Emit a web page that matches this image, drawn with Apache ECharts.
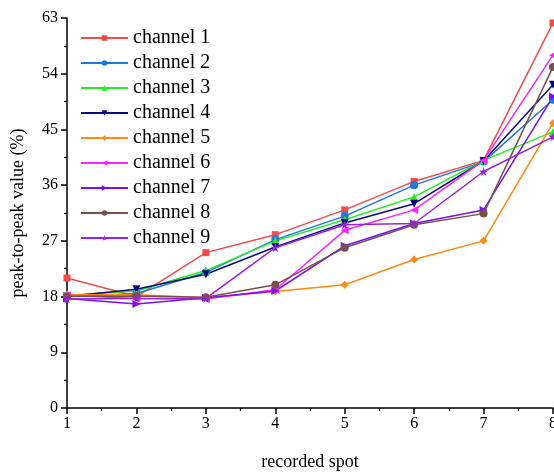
<!DOCTYPE html>
<html><head><meta charset="utf-8">
<script src="https://cdn.jsdelivr.net/npm/echarts@6/dist/echarts.min.js"></script>
<style>html,body{margin:0;padding:0;background:#fff}#c{width:554px;height:472px}</style>
</head><body><div id="c"></div>
<script>
var categories = [1,2,3,4,5,6,7,8];
var yTicks = [0,9,18,27,36,45,54,63];
var seriesNames = ['channel 1','channel 2','channel 3','channel 4','channel 5','channel 6','channel 7','channel 8','channel 9'];
var ch1 = [21.0, 18.0, 25.1, 28.0, 32.0, 36.6, 40.0, 62.2];
var ch2 = [18.0, 18.5, 21.9, 27.2, 31.0, 36.0, 39.8, 49.8];
var ch3 = [18.2, 18.9, 22.2, 27.0, 30.4, 34.1, 40.0, 44.6];
var ch4 = [18.0, 19.2, 21.6, 26.0, 29.9, 33.0, 39.9, 52.2];
var ch5 = [18.3, 18.3, 17.8, 18.8, 19.9, 24.0, 27.0, 46.0];
var ch6 = [18.2, 17.7, 17.6, 19.1, 28.7, 32.0, 40.0, 57.0];
var ch7 = [17.7, 16.8, 17.8, 18.9, 26.2, 29.8, 32.0, 50.3];
var ch8 = [18.0, 18.1, 17.9, 19.9, 25.9, 29.6, 31.4, 55.1];
var ch9 = [17.6, 17.7, 17.7, 25.9, 29.6, 29.8, 38.2, 43.8];

var allData = [ch1,ch2,ch3,ch4,ch5,ch6,ch7,ch8,ch9];
var colors = ['#f44a4a','#1f77e0','#22ee22','#0a0a80','#ff8a14','#ff22ff','#7a10f0','#7a4f4f','#9a22d8'];
var star = 'path://M50,0 L61,35 L98,35 L68,57 L79,91 L50,70 L21,91 L32,57 L2,35 L39,35 Z';
var symbols = ['rect','circle','triangle','triangle','diamond','triangle','triangle','circle',star];
var rotates = [0,0,0,180,0,90,-90,0,0];
var sizes = [7,8,8,8,8,8,8,8,9];
var font = '"Liberation Serif","Times New Roman",serif';

var series = allData.map(function(d,i){
  return {
    name: seriesNames[i], type: 'line',
    data: categories.map(function(c,j){return [c,d[j]];}),
    symbol: symbols[i], symbolSize: sizes[i], symbolRotate: rotates[i],
    showAllSymbol: true,
    lineStyle: {width: 1.5, color: colors[i]},
    itemStyle: {color: colors[i]},
    emphasis: {disabled: true},
    animation: false
  };
});

var chart = echarts.init(document.getElementById('c'));
chart.setOption({
  animation: false,
  grid: {left: 67, top: 18, right: 1, bottom: 64, containLabel: false, outerBoundsMode: 'none'},
  legend: {
    left: 80, top: 28, padding: 0, orient: 'vertical', itemWidth: 47, itemHeight: 7, itemGap: 5,
    textStyle: {fontFamily: font, fontSize: 20, color: '#000'},
    data: seriesNames
  },
  xAxis: {
    type: 'value', min: 1, max: 8, interval: 1,
    name: 'recorded spot', nameLocation: 'middle', nameGap: 45,
    nameTextStyle: {fontFamily: font, fontSize: 18, color: '#000'},
    axisLine: {show: true, onZero: false, lineStyle: {color: '#000', width: 1.5}},
    axisTick: {show: true, length: 6, lineStyle: {color: '#000', width: 1.5}},
    minorTick: {show: true, splitNumber: 2, length: 3, lineStyle: {color: '#000', width: 1.2}},
    axisLabel: {fontFamily: font, fontSize: 16, color: '#000', margin: 8},
    splitLine: {show: false}
  },
  yAxis: {
    type: 'value', min: 0, max: 63, interval: 9,
    name: 'peak-to-peak value (%)', nameLocation: 'middle', nameGap: 40,
    nameTextStyle: {fontFamily: font, fontSize: 18, color: '#000'},
    axisLine: {show: true, onZero: false, lineStyle: {color: '#000', width: 1.5}},
    axisTick: {show: true, length: 6, lineStyle: {color: '#000', width: 1.5}},
    minorTick: {show: true, splitNumber: 2, length: 3, lineStyle: {color: '#000', width: 1.2}},
    axisLabel: {fontFamily: font, fontSize: 16, color: '#000', margin: 9,
      formatter: function(v){ return yTicks.indexOf(v) >= 0 ? String(v) : ''; }},
    splitLine: {show: false}
  },
  series: series
});
</script></body></html>
